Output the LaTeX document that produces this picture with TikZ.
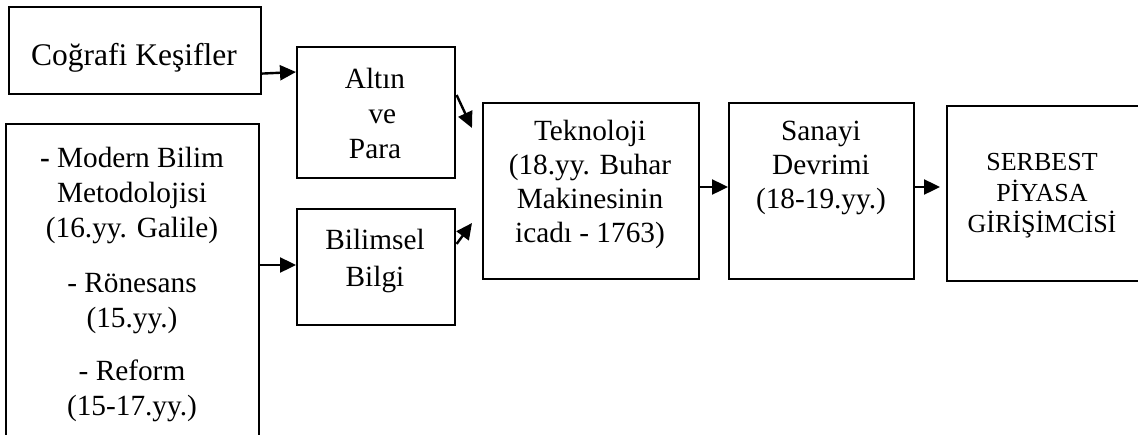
\documentclass[tikz,border=0pt]{standalone}
\usepackage{fontspec}
\setmainfont{Liberation Serif}
\usetikzlibrary{arrows.meta,calc}
\begin{document}
\begin{tikzpicture}[x=1pt,y=-1pt,
  box/.style={draw, line width=1.6pt, rectangle, inner sep=0pt, anchor=north west},
  txt/.style={align=center, inner sep=0pt, anchor=base, font=\fontsize{29.3}{35}\selectfont},
  arr/.style={line width=2.4pt, -{Triangle[length=16pt,width=15pt]}}]
\useasboundingbox (0,0) rectangle (1138,434);
% boxes
\node[box, minimum width=252pt, minimum height=87pt] (cog) at (8,6) {};
\node[box, minimum width=253pt, minimum height=320pt] (left) at (5,123) {};
\node[box, minimum width=158pt, minimum height=131pt] (alt) at (296,46) {};
\node[box, minimum width=158pt, minimum height=116pt] (bil) at (296,208) {};
\node[box, minimum width=216pt, minimum height=176pt] (tek) at (482,102) {};
\node[box, minimum width=185pt, minimum height=176pt] (san) at (728,102) {};
\node[box, minimum width=200pt, minimum height=175pt] (ser) at (946,105) {};
% texts (anchored at the baseline of their last line)
\node[txt, font=\fontsize{31.5}{35}\selectfont] (cogt) at (134,65) {Coğrafi Keşifler};
\node[txt] (leftt) at (132,415) {\textbf{-} Modern Bilim\\Metodolojisi\\(16.yy. Galile)\\[20pt]- Rönesans\\(15.yy.)\\[18pt]- Reform\\(15-17.yy.)};
\node[txt] (altt) at (375,158) {Altın\\\ \ ve\\Para};
\node[txt, font=\fontsize{29.3}{37}\selectfont] (bilt) at (375,286) {Bilimsel\\Bilgi};
\node[txt, font=\fontsize{29.3}{34}\selectfont] (tekt) at (590,242) {Teknoloji\\(18.yy. Buhar\\Makinesinin\\icadı - 1763)};
\node[txt, font=\fontsize{29.3}{34}\selectfont] (sant) at (821,208) {Sanayi\\Devrimi\\(18-19.yy.)};
\node[txt, font=\fontsize{26}{31}\selectfont] (sert) at (1042,232) {SERBEST\\PİYASA\\GİRİŞİMCİSİ};
% arrows
\draw[arr] ($(cog.south east)+(0,-21)$) -- ($(alt.north west)+(0,26)$);
\draw[arr] ($(left.north east)+(0,142)$) -- ($(bil.north west)+(0,57)$);
\draw[arr] ($(alt.north east)+(1,49)$) -- ($(tek.north west)+(-10,26)$);
\draw[arr] ($(bil.north east)+(1,36)$) -- ($(tek.north west)+(-10,121)$);
\draw[arr] ($(tek.north east)+(0,85)$) -- ($(san.north west)+(0,85)$);
\draw[arr, shorten >=6pt] ($(san.north east)+(0,85)$) -- ($(ser.north west)+(0,82)$);
\end{tikzpicture}
\end{document}
